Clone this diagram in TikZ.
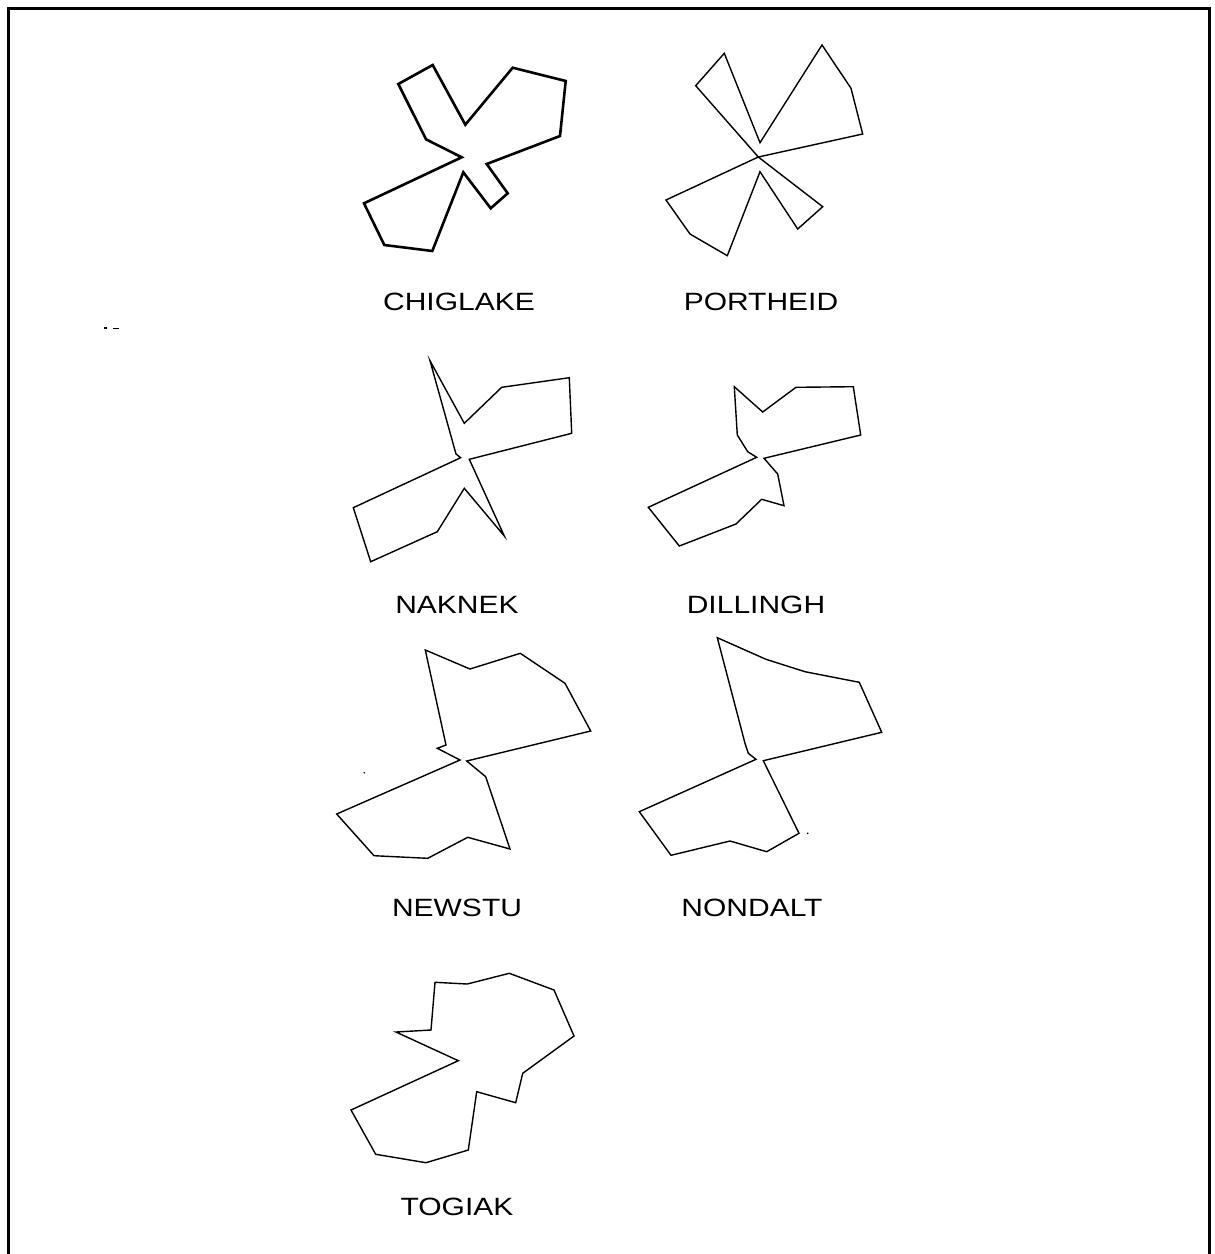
\documentclass[tikz,border=0pt]{standalone}
\usepackage{fontspec}
\setmainfont{Liberation Sans}
\begin{document}
\begin{tikzpicture}[x=1pt,y=-1pt,
  star/.style={draw=black,line width=1.4pt,line join=miter},
  boldstar/.style={draw=black,line width=2.6pt,line join=miter},
  lbl/.style={font=\fontsize{25}{25}\selectfont,xscale=1.2,inner sep=0pt,anchor=center},
  frame/.style={draw=black,line width=3pt}]
\useasboundingbox (0,0) rectangle (1215,1254);
\draw[frame] (8,1254) -- (8,8) -- (1209,8) -- (1209,1254);
% CHIGLAKE
\draw[boldstar] (432.7,65) -- (398.3,84) -- (426,139.3) -- (461.7,157.3) -- (364,203.3) -- (384.3,245) -- (432.3,251) -- (463.3,172.3) -- (490.7,208.3) -- (507.7,193.3) -- (486.7,164) -- (560,136) -- (565.7,81) -- (512.7,67.7) -- (465.3,124.7) -- cycle;
% PORTHEID
\draw[star] (758.3,157) -- (695.7,85.7) -- (724.3,53.3) -- (760,142.7) -- (822,45) -- (851,88.3) -- (862.7,134) -- (758.3,157) -- (822.7,206.7) -- (797.7,229) -- (760,171.7) -- (727.3,255.7) -- (690,234) -- (666,200) -- cycle;
% NAKNEK
\draw[star] (430,360.7) -- (464.3,423.3) -- (501.7,387.3) -- (569.3,377.7) -- (571.7,433.3) -- (469.3,459.3) -- (504.3,536) -- (464.3,488.3) -- (437.3,531.7) -- (370.7,561.7) -- (353.3,507.7) -- (460.7,457.7) -- (456,454) -- cycle;
% DILLINGH
\draw[star] (734.3,386.7) -- (762.7,412) -- (796,387.3) -- (853.3,386.7) -- (860.7,435) -- (764,458.3) -- (777.7,474) -- (784,505.7) -- (761.7,499.3) -- (736,524) -- (679.3,546) -- (648.3,507.3) -- (756.7,457.3) -- (747.7,451.7) -- (737.3,435) -- cycle;
% NEWSTU
\draw[star] (425.3,650) -- (470,669) -- (520.3,653.3) -- (565,683.3) -- (590.7,731) -- (466.7,761) -- (485.7,776.7) -- (510,849) -- (467.7,837.3) -- (427.7,858.3) -- (374,855.7) -- (336.7,814) -- (460,760) -- (437.3,748.3) -- (446,745) -- cycle;
% NONDALT
\draw[star] (717.3,637.7) -- (766,659.3) -- (805,671.7) -- (859.3,682.3) -- (881.7,732.3) -- (763.3,760.7) -- (799,833.3) -- (766.7,851.7) -- (730,841) -- (671,855.3) -- (639.3,811.7) -- (756,759.3) -- (748.3,753.3) -- (745,743.3) -- cycle;
% TOGIAK
\draw[star] (435,982.3) -- (467.3,984) -- (509.3,973.3) -- (554,990) -- (574,1036) -- (522.7,1073.3) -- (515.7,1102.7) -- (476.7,1091.7) -- (468.3,1150) -- (426,1162.7) -- (375.7,1154.3) -- (351,1110) -- (458.3,1060.7) -- (396,1032) -- (431,1030) -- cycle;
% stray marks
\fill (364.3,772.7) circle (0.9);
\fill (807.7,833.3) circle (0.9);
\draw[line width=1.5pt] (104,328) -- (107,328);
\draw[line width=1pt] (113,328) -- (119,328);
% labels
\node[lbl] (l1) at (459,302) {CHIGLAKE};
\node[lbl] (l2) at (761,302) {PORTHEID};
\node[lbl] (l3) at (457,605) {NAKNEK};
\node[lbl] (l4) at (756,605) {DILLINGH};
\node[lbl] (l5) at (457,908) {NEWSTU};
\node[lbl] (l6) at (752,908) {NONDALT};
\node[lbl] (l7) at (457,1207) {TOGIAK};
\end{tikzpicture}
\end{document}
